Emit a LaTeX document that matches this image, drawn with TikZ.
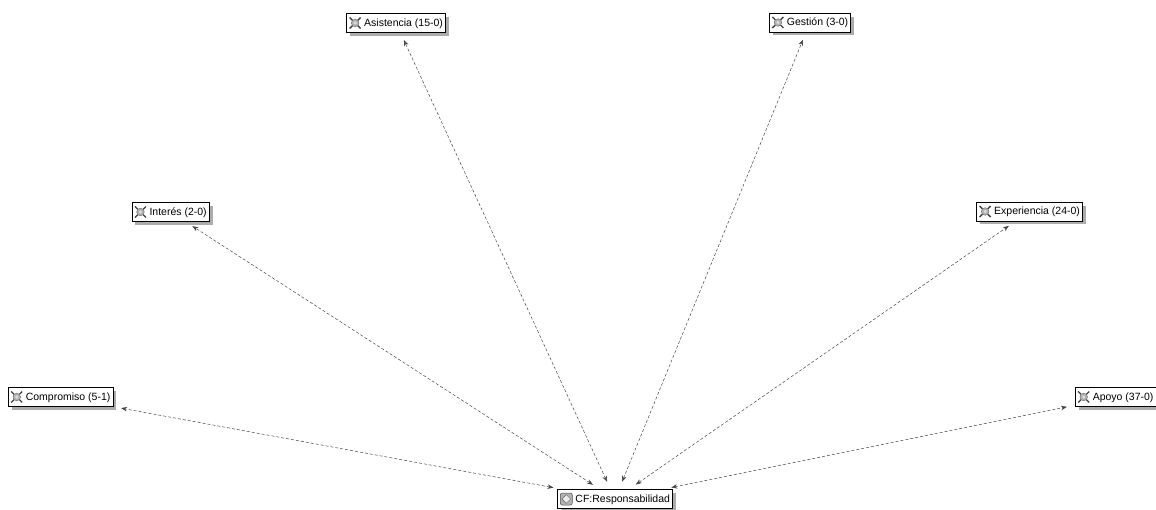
\documentclass[tikz,border=0pt]{standalone}
\usepackage{fontspec}
\setmainfont{Liberation Sans}
\usetikzlibrary{arrows.meta, shadows}

% small glyphs in front of the labels
\newcommand{\codeicon}{\tikz[baseline=0pt, x=1pt, y=1pt]{
  \draw[black!75, line width=1.3pt] (-5.5,-2)--(5.5,9) (-5.5,9)--(5.5,-2);
  \fill[gray!60, draw=black!60, line width=0.4pt] (0,3.5) circle (3.8pt);
  \fill[gray!25] (0,3.5) circle (1.6pt);
}}
\newcommand{\familyicon}{\tikz[baseline=0pt, x=1pt, y=1pt]{
  \fill[gray!60, draw=black!70, line width=0.5pt, rounded corners=2pt] (-6,-2.5) rectangle (6,9.5);
  \fill[gray!15, draw=black!60, line width=0.4pt] (0,-0.8)--(4.3,3.5)--(0,7.8)--(-4.3,3.5)--cycle;
}}

\begin{document}
\begin{tikzpicture}[x=1pt, y=-1pt,
  codebox/.style={draw=black, fill=white, line width=0.6pt, inner xsep=2.5pt,
    minimum height=18pt, font=\fontsize{10.5}{12}\selectfont,
    drop shadow={shadow xshift=3.5pt, shadow yshift=-3.5pt, fill=gray!65, opacity=1}},
  link/.style={densely dashed, gray!55!black, line width=0.5pt,
    {Stealth[length=6pt, width=4.5pt]}-{Stealth[length=6pt, width=4.5pt]},
    shorten <=8pt, shorten >=8pt}]
\useasboundingbox (0,0) rectangle (1156,510);

% Core code
\node[codebox] (resp) at (615,499) {\familyicon\ CF:Responsabilidad};

% Related codes
\foreach \name/\pos/\txt in {compromiso/{60.5,397}/Compromiso (5-1),
    interes/{170.5,212}/Interés (2-0), asistencia/{396,23}/Asistencia (15-0),
    gestion/{810,22.5}/Gestión (3-0), experiencia/{1029.5,211.5}/Experiencia (24-0),
    apoyo/{1115.5,397}/Apoyo (37-0)}{
  \node[codebox] (\name) at (\pos) {\codeicon\ \txt};
}

\foreach \name in {compromiso, interes, asistencia, gestion, experiencia, apoyo}{
  \draw[link] (resp) -- (\name);
}
\end{tikzpicture}
\end{document}
